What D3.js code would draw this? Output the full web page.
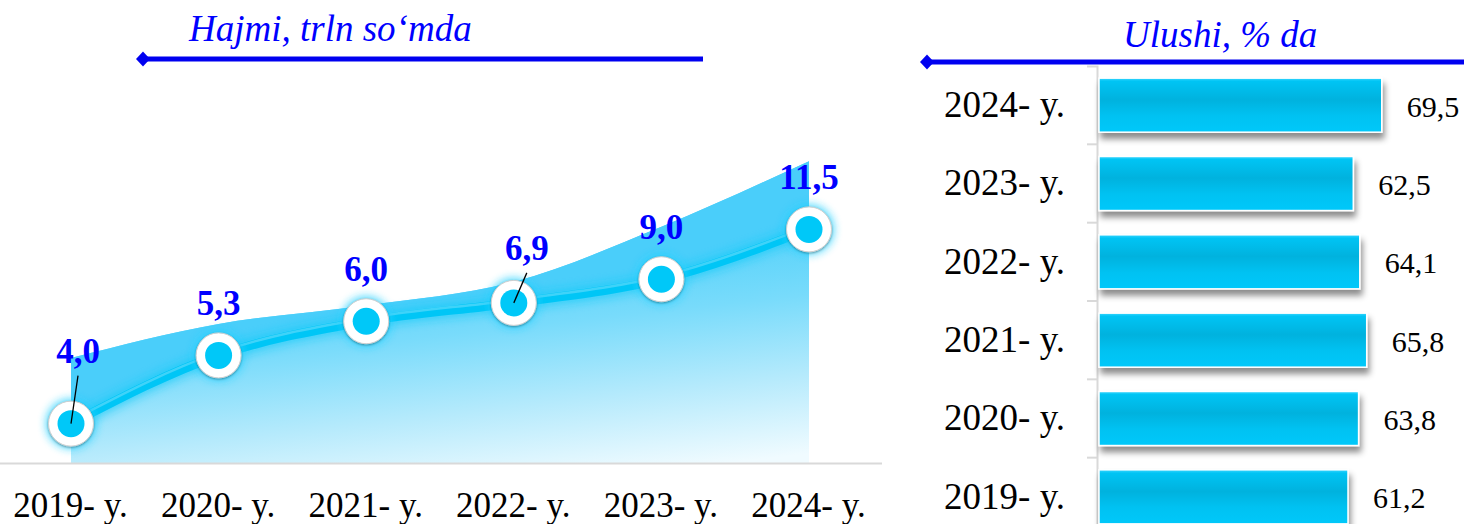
<!DOCTYPE html>
<html>
<head>
<meta charset="utf-8">
<script src="https://cdn.jsdelivr.net/npm/d3@7"></script>
<style>
  body { margin: 0; background: #fff; }
  svg { display: block; font-family: 'Liberation Serif', 'Times New Roman', serif; }
</style>
</head>
<body>
<div class="chart"></div>
<script>
// categorías (años)
const years = ['2019- y.', '2020- y.', '2021- y.', '2022- y.', '2023- y.', '2024- y.'];
// hajmi, trln so'mda (área)
const volume = [4.0, 5.3, 6.0, 6.9, 9.0, 11.5];
// altura de la línea con marcadores
const markerLevel = [1.5, 4.1, 5.4, 6.1, 7.0, 8.9];
// ulushi, % da (barras)
const share = [61.2, 63.8, 65.8, 64.1, 62.5, 69.5];

// formato con coma decimal
const fmt = v => d3.format('.1f')(v).replace('.', ',');

const width = 1464;
const height = 524;

const svg = d3.select('.chart')
  .append('svg')
  .attr('width', width)
  .attr('height', height);

const defs = svg.append('defs');

// degradado del área (se aclara hacia abajo y a la derecha)
const areaGrad = defs.append('linearGradient')
  .attr('id', 'areaGrad')
  .attr('gradientUnits', 'userSpaceOnUse')
  .attr('x1', 72).attr('y1', 308)
  .attr('x2', 97).attr('y2', 533);
[[0, '#55d2fa'], [0.3, '#78dbfb'], [0.65, '#b5eafc'], [1, '#f0fbff']]
  .forEach(([o, c]) => areaGrad.append('stop').attr('offset', o).attr('stop-color', c));

// degradado de las barras
const barGrad = defs.append('linearGradient')
  .attr('id', 'barGrad')
  .attr('x1', 0).attr('y1', 0).attr('x2', 0).attr('y2', 1);
[[0, '#3dd6ff'], [0.06, '#00c4f4'], [0.4, '#00b2de'], [0.7, '#00c2f2'], [1, '#00c8fa']]
  .forEach(([o, c]) => barGrad.append('stop').attr('offset', o).attr('stop-color', c));

// sombra de las barras
defs.append('filter')
  .attr('id', 'barShadow')
  .attr('x', '-5%').attr('y', '-20%').attr('width', '115%').attr('height', '160%')
  .append('feDropShadow')
  .attr('dx', 2).attr('dy', 6).attr('stdDeviation', 3)
  .attr('flood-color', '#000').attr('flood-opacity', 0.45);

// brillo alrededor de la línea y los marcadores
defs.append('filter')
  .attr('id', 'glow')
  .attr('x', '-50%').attr('y', '-50%').attr('width', '200%').attr('height', '200%')
  .append('feGaussianBlur')
  .attr('stdDeviation', 4);

defs.append('filter')
  .attr('id', 'ringShadow')
  .attr('x', '-50%').attr('y', '-50%').attr('width', '200%').attr('height', '200%')
  .append('feDropShadow')
  .attr('dx', 0).attr('dy', 1).attr('stdDeviation', 1.2)
  .attr('flood-color', '#000').attr('flood-opacity', 0.35);

// ---------- gráfico de la izquierda ----------
const x = d3.scalePoint()
  .domain(years)
  .range([71, 809]);

const y = d3.scaleLinear()
  .domain([0, 12])
  .range([463, 148]);

const rows = years.map((d, i) => ({ year: d, volume: volume[i], level: markerLevel[i] }));

// título y flecha
const headerLeft = svg.append('g');
headerLeft.append('line')
  .attr('x1', 143).attr('x2', 703)
  .attr('y1', 59).attr('y2', 59)
  .attr('stroke', '#0000f0')
  .attr('stroke-width', 5);
headerLeft.append('path')
  .attr('d', 'M136,59L143,51.5L150,59L143,66.5Z')
  .attr('fill', '#0000f0');
headerLeft.append('text')
  .attr('x', 189).attr('y', 41)
  .attr('font-size', 37)
  .attr('font-style', 'italic')
  .attr('fill', '#0000ff')
  .text('Hajmi, trln so‘mda');

// área
const area = d3.area()
  .x(d => x(d.year))
  .y0(y(0))
  .y1(d => y(d.volume))
  .curve(d3.curveMonotoneX);

svg.append('path')
  .datum(rows)
  .attr('d', area)
  .attr('fill', 'url(#areaGrad)');

// franja saturada entre el borde del área y la línea
const band = d3.area()
  .x(d => x(d.year))
  .y0(d => y(d.level))
  .y1(d => y(d.volume))
  .curve(d3.curveMonotoneX);

svg.append('path')
  .datum(rows)
  .attr('d', band)
  .attr('fill', '#4acefa');

// línea base
svg.append('line')
  .attr('x1', 0).attr('x2', 882)
  .attr('y1', 463.5).attr('y2', 463.5)
  .attr('stroke', '#d9d9d9')
  .attr('stroke-width', 2);

// eje x
const xAxis = svg.append('g')
  .attr('transform', `translate(0, ${y(0)})`)
  .call(d3.axisBottom(x).tickSize(0).tickPadding(29));
xAxis.attr('font-family', null);
xAxis.select('.domain').remove();
xAxis.selectAll('text')
  .attr('font-size', 35)
  .attr('dx', -1)
  .attr('fill', '#000');

// línea con marcadores
const line = d3.line()
  .x(d => x(d.year))
  .y(d => y(d.level))
  .curve(d3.curveMonotoneX);

svg.append('path')
  .datum(rows)
  .attr('d', line)
  .attr('fill', 'none')
  .attr('stroke', '#19cbf8')
  .attr('stroke-width', 16)
  .attr('opacity', 0.6)
  .attr('filter', 'url(#glow)');

svg.append('path')
  .datum(rows)
  .attr('d', line)
  .attr('fill', 'none')
  .attr('stroke', '#00c6f6')
  .attr('stroke-width', 9);

svg.append('path')
  .datum(rows)
  .attr('d', line)
  .attr('fill', 'none')
  .attr('stroke', '#5ad8fb')
  .attr('stroke-width', 2.5)
  .attr('transform', 'translate(0, -3)')
  .attr('opacity', 0.7);

const markers = svg.append('g')
  .selectAll('g')
  .data(rows)
  .join('g')
  .attr('transform', d => `translate(${x(d.year)}, ${y(d.level)})`);

markers.append('circle')
  .attr('r', 25)
  .attr('fill', '#20d0ff')
  .attr('opacity', 0.8)
  .attr('filter', 'url(#glow)');

markers.append('circle')
  .attr('r', 22.5)
  .attr('fill', '#fff')
  .attr('stroke', '#cfcfcf')
  .attr('stroke-width', 1)
  .attr('filter', 'url(#ringShadow)');

markers.append('circle')
  .attr('r', 13.5)
  .attr('fill', '#00c8f8');

// etiquetas de valores (algunas desplazadas con línea guía)
const labelNudge = { '2019- y.': [7, -21], '2022- y.': [13, -3] };

const labels = svg.append('g')
  .selectAll('g')
  .data(rows)
  .join('g');

labels.filter(d => labelNudge[d.year])
  .append('line')
  .attr('x1', d => x(d.year) + labelNudge[d.year][0])
  .attr('y1', d => y(d.level) - 40 + labelNudge[d.year][1] + 13)
  .attr('x2', d => x(d.year))
  .attr('y2', d => y(d.level))
  .attr('stroke', '#000')
  .attr('stroke-width', 1.3);

labels.append('text')
  .attr('x', d => x(d.year) + (labelNudge[d.year] ? labelNudge[d.year][0] : 0))
  .attr('y', d => y(d.level) - 40 + (labelNudge[d.year] ? labelNudge[d.year][1] : 0))
  .attr('text-anchor', 'middle')
  .attr('font-size', 35)
  .attr('font-weight', 'bold')
  .attr('fill', '#0000ff')
  .text(d => fmt(d.volume));

// ---------- gráfico de la derecha ----------
const headerRight = svg.append('g');
headerRight.append('line')
  .attr('x1', 927).attr('x2', 1464)
  .attr('y1', 62).attr('y2', 62)
  .attr('stroke', '#0000f0')
  .attr('stroke-width', 5);
headerRight.append('path')
  .attr('d', 'M920,62L927,54.5L934,62L927,69.5Z')
  .attr('fill', '#0000f0');
headerRight.append('text')
  .attr('x', 1123).attr('y', 47)
  .attr('font-size', 37)
  .attr('font-style', 'italic')
  .attr('fill', '#0000ff')
  .text('Ulushi, % da');

const xb = d3.scaleLinear()
  .domain([0, 70])
  .range([1099, 1383.8]);

const yb = d3.scaleBand()
  .domain(years.slice().reverse())
  .range([66, 536])
  .paddingInner(0.31)
  .paddingOuter(0.155);

const bars = years.map((d, i) => ({ year: d, share: share[i] }));

// eje y
const yAxis = svg.append('g')
  .attr('transform', 'translate(1097, 0)')
  .call(d3.axisLeft(yb).tickSize(0).tickSizeOuter(10).tickPadding(32));
yAxis.attr('font-family', null);
yAxis.select('.domain')
  .attr('stroke', '#d9d9d9')
  .attr('stroke-width', 2);
yAxis.selectAll('text')
  .attr('font-size', 37)
  .attr('fill', '#000');

// marcas entre categorías
const step = yb.step();
yAxis.append('g')
  .selectAll('line')
  .data(d3.range(1, years.length))
  .join('line')
  .attr('x1', -10).attr('x2', 0)
  .attr('y1', i => 66 + i * step)
  .attr('y2', i => 66 + i * step)
  .attr('stroke', '#d9d9d9')
  .attr('stroke-width', 2);

// barras
svg.append('g')
  .selectAll('rect')
  .data(bars)
  .join('rect')
  .attr('x', xb(0))
  .attr('y', d => yb(d.year))
  .attr('width', d => xb(d.share) - xb(0))
  .attr('height', yb.bandwidth())
  .attr('fill', 'url(#barGrad)')
  .attr('stroke', '#fff')
  .attr('stroke-width', 1.5)
  .attr('filter', 'url(#barShadow)');

// valores de las barras
svg.append('g')
  .selectAll('text')
  .data(bars)
  .join('text')
  .attr('x', d => xb(d.share) + 25)
  .attr('y', d => yb(d.year) + yb.bandwidth() / 2)
  .attr('dy', '0.38em')
  .attr('font-size', 30)
  .attr('fill', '#000')
  .text(d => fmt(d.share));
</script>
</body>
</html>
